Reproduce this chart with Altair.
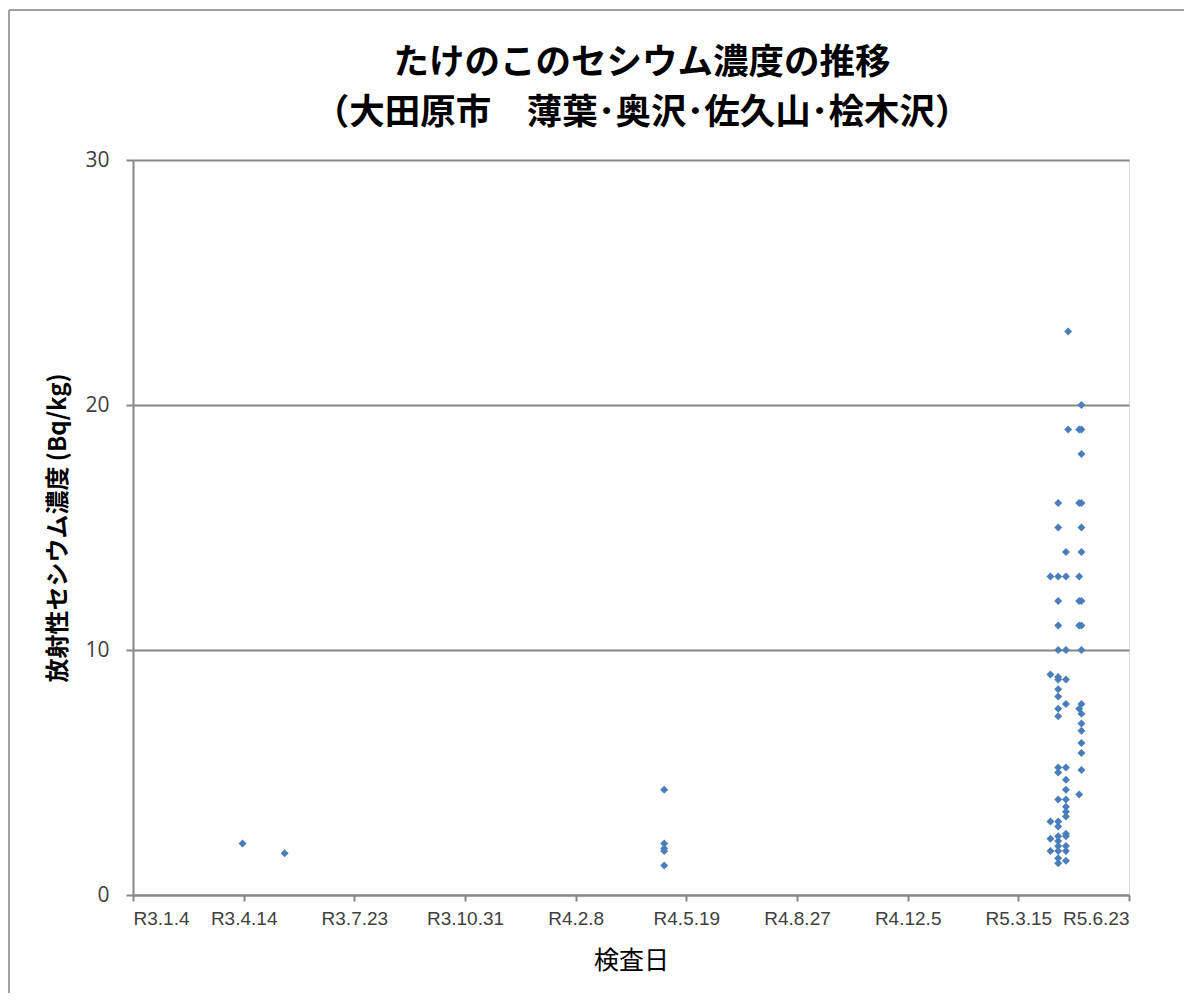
import altair as alt
import pandas as pd

# ---- data ----
origin_date = "2021-01-04"  # R3.1.4
tick_labels = ["R3.1.4", "R3.4.14", "R3.7.23", "R3.10.31", "R4.2.8",
               "R4.5.19", "R4.8.27", "R4.12.5", "R5.3.15", "R5.6.23"]
tick_days = [0, 100, 200, 300, 400, 500, 600, 700, 800, 900]

sample_dates = ["2021-04-13", "2021-05-21", "2022-04-29",
                "2023-04-13", "2023-04-20", "2023-04-27", "2023-04-29",
                "2023-05-09", "2023-05-11"]
values_by_date = [
    [2.1],
    [1.7],
    [4.3, 2.1, 1.9, 1.8, 1.2],
    [13, 9.0, 3.0, 2.3, 1.8],
    [16, 15, 13, 12, 11, 10, 8.9, 8.8, 8.4, 8.1, 7.6, 7.3, 5.2, 5.0, 3.9,
     3.0, 2.8, 2.4, 2.2, 2.0, 1.8, 1.5, 1.3],
    [14, 13, 10, 8.8, 7.8, 5.2, 4.7, 4.3, 3.9, 3.6, 3.4, 3.2, 2.5, 2.4, 2.0,
     1.8, 1.4],
    [23, 19],
    [19, 16, 13, 12, 11, 7.6, 4.1],
    [20, 19, 18, 16, 15, 14, 12, 11, 10, 7.8, 7.4, 7.0, 6.7, 6.2, 5.8, 5.1],
]

rows = []
t0 = pd.Timestamp(origin_date)
for d, vals in zip(sample_dates, values_by_date):
    day = (pd.Timestamp(d) - t0).days
    for v in vals:
        rows.append({"day": day, "date": d, "value": v})
df = pd.DataFrame(rows)

label_js = "[" + ",".join("'%s'" % s for s in tick_labels) + "]"

W, H = 996, 735
PAD_L, PAD_T = 125, 152
TOTAL_W, TOTAL_H = 1176, 985
BORDER_Y = -150

points = alt.Chart(df).mark_point(
    shape="diamond", filled=True, size=64, color="#4a7ebb", opacity=1
).encode(
    x=alt.X("day:Q",
            scale=alt.Scale(domain=[0, 900], nice=False, zero=False),
            axis=alt.Axis(values=tick_days,
                          labelExpr=label_js + "[round(datum.value/100)]",
                          title="検査日", grid=False,
                          domainColor="#868686", domainWidth=2,
                          tickColor="#868686", tickWidth=2, tickSize=6,
                          labelFont="Liberation Sans", labelFontSize=19,
                          labelColor="#404040", labelPadding=8,
                          titleFont="Noto Sans CJK JP", titleFontSize=25,
                          titleFontWeight="normal", titleColor="#000000",
                          titlePadding=20)),
    y=alt.Y("value:Q",
            scale=alt.Scale(domain=[0, 30], nice=False),
            axis=alt.Axis(values=[0, 10, 20, 30], grid=True,
                          gridColor="#868686", gridWidth=2,
                          domainColor="#868686", domainWidth=2,
                          tickColor="#868686", tickWidth=2, tickSize=7,
                          labelFont="Open Sans", labelFontSize=21,
                          labelColor="#404040", labelPadding=17,
                          title="放射性セシウム濃度 (Bq/kg)",
                          titleFont="Noto Sans CJK JP", titleFontSize=24,
                          titleFontWeight="bold", titleColor="#000000",
                          titlePadding=14)),
    tooltip=["date:N", "value:Q"],
)

frame_df = pd.DataFrame({"k": [0]})
left_border = alt.Chart(frame_df).mark_rule(
    color="#a0a0a0", strokeWidth=2, clip=False
).encode(x=alt.value(-124), y=alt.value(BORDER_Y), y2=alt.value(TOTAL_H - PAD_T))
top_border = alt.Chart(frame_df).mark_rule(
    color="#a0a0a0", strokeWidth=2, clip=False
).encode(x=alt.value(-124), x2=alt.value(TOTAL_W - PAD_L), y=alt.value(BORDER_Y))

chart = alt.layer(left_border, top_border, points).properties(
    width=W, height=H,
    autosize=alt.AutoSizeParams(type="none"),
    padding={"left": PAD_L, "top": PAD_T,
             "right": TOTAL_W - PAD_L - W, "bottom": TOTAL_H - PAD_T - H},
    title=alt.TitleParams(
        text=["たけのこのセシウム濃度の推移",
              "（大田原市　薄葉･奥沢･佐久山･桧木沢）"],
        font="Noto Sans CJK JP", fontSize=35.5, fontWeight="bold",
        color="#000000", anchor="middle", lineHeight=50, offset=29,
        dx=11, dy=-BORDER_Y + 1),
).configure_view(stroke=None).configure(background="white")

chart.save("out.html", embed_options={"renderer": "svg", "actions": False})
